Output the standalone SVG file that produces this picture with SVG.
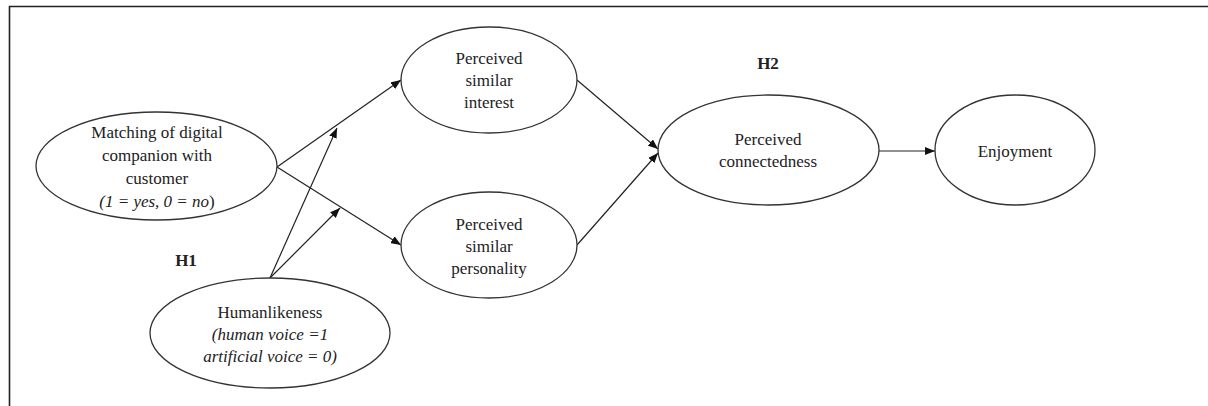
<svg xmlns="http://www.w3.org/2000/svg" width="1208" height="406" viewBox="0 0 1208 406">
  <defs>
    <marker id="arrow" viewBox="0 0 10 8" refX="10" refY="4" markerWidth="10" markerHeight="8" markerUnits="userSpaceOnUse" orient="auto">
      <path d="M0,0 L10,4 L0,8 Z" fill="#111"/>
    </marker>
    <style>
      .node ellipse { fill: #fff; stroke: #333; stroke-width: 1.3; }
      .node text, .label { font-family: "Liberation Serif", "Times New Roman", serif; font-size: 17px; fill: #222; text-anchor: middle; }
      .it { font-style: italic; }
      .label { font-weight: bold; }
      .frame { stroke: #222; stroke-width: 1.6; fill: none; }
      #connectors line { stroke: #222; stroke-width: 1.2; }
      #connectors line.arr { marker-end: url(#arrow); }
    </style>
  </defs>

  <rect width="1208" height="406" fill="#fff"/>

  <!-- frame -->
  <path class="frame" d="M9.5,406 L9.5,6.5 L1208,6.5"/>

  <!-- connectors -->
  <g id="connectors">
    <line class="arr" x1="277" y1="167" x2="401" y2="80"/>
    <line class="arr" x1="277" y1="167" x2="401" y2="245"/>
    <line class="arr" x1="270" y1="278" x2="337" y2="128"/>
    <line class="arr" x1="270" y1="278" x2="340" y2="208"/>
    <line class="arr" x1="577" y1="80" x2="658" y2="149"/>
    <line class="arr" x1="577" y1="245" x2="658" y2="153"/>
    <line class="arr" x1="879" y1="151" x2="935" y2="151"/>
  </g>

  <!-- hypothesis labels -->
  <text class="label" x="186" y="266">H1</text>
  <text class="label" x="768" y="69">H2</text>

  <g id="matching" class="node">
    <ellipse cx="156.5" cy="166" rx="120.5" ry="54"/>
    <text x="157" y="138">Matching of digital</text>
    <text x="157" y="161">companion with</text>
    <text x="157" y="184">customer</text>
    <text x="157" y="207"><tspan class="it">(1 = yes, 0 = no</tspan>)</text>
  </g>

  <g id="humanlikeness" class="node">
    <ellipse cx="270" cy="333" rx="120" ry="55"/>
    <text x="270" y="318">Humanlikeness</text>
    <text x="270" y="340" class="it">(human voice =1</text>
    <text x="270" y="362" class="it">artificial voice = 0)</text>
  </g>

  <g id="similar-interest" class="node">
    <ellipse cx="489" cy="80" rx="88" ry="53"/>
    <text x="489" y="64">Perceived</text>
    <text x="489" y="86">similar</text>
    <text x="489" y="108">interest</text>
  </g>

  <g id="similar-personality" class="node">
    <ellipse cx="489" cy="245" rx="88" ry="53"/>
    <text x="489" y="230">Perceived</text>
    <text x="489" y="252">similar</text>
    <text x="489" y="274">personality</text>
  </g>

  <g id="connectedness" class="node">
    <ellipse cx="768.5" cy="150" rx="110.5" ry="55"/>
    <text x="768" y="145">Perceived</text>
    <text x="768" y="167">connectedness</text>
  </g>

  <g id="enjoyment" class="node">
    <ellipse cx="1015" cy="150" rx="80" ry="55"/>
    <text x="1015" y="157">Enjoyment</text>
  </g>
</svg>
